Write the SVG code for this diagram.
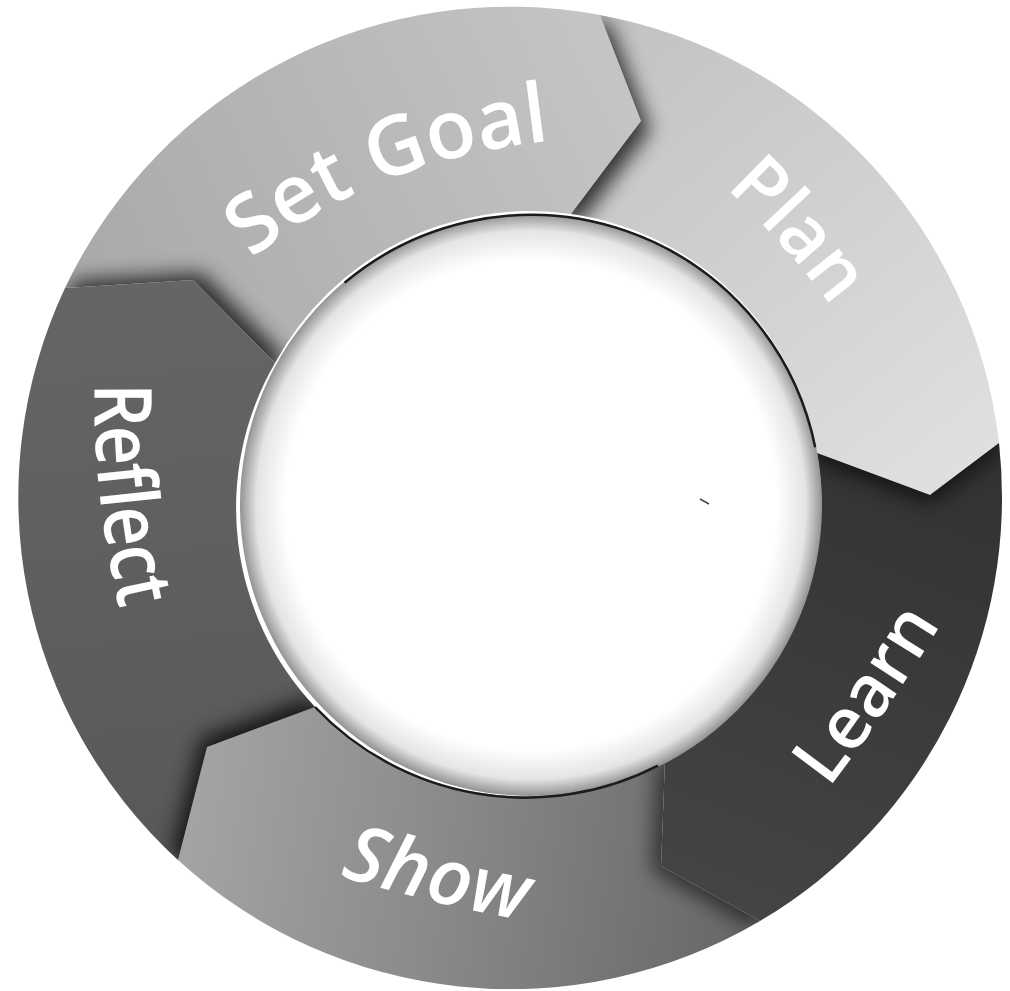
<svg xmlns="http://www.w3.org/2000/svg" width="1010" height="991" viewBox="0 0 1010 991">
<defs>
<style>
.lbl{font-family:"Open Sans","Noto Sans","Liberation Sans",sans-serif;font-weight:600;fill:#ffffff;}
.shd{fill:#000000;filter:url(#blur);}
.rim{fill:none;stroke:#1c1c1c;stroke-width:2.5;}
</style>
<filter id="blur" x="-20%" y="-20%" width="140%" height="140%"><feGaussianBlur stdDeviation="10"/></filter>
<linearGradient id="gSet" x1="80" y1="300" x2="640" y2="40" gradientUnits="userSpaceOnUse"><stop offset="0" stop-color="#a9a9a9"/><stop offset="1" stop-color="#c6c6c6"/></linearGradient>
<linearGradient id="gPlan" x1="620" y1="40" x2="960" y2="460" gradientUnits="userSpaceOnUse"><stop offset="0" stop-color="#c3c3c3"/><stop offset="1" stop-color="#dfdfdf"/></linearGradient>
<linearGradient id="gLearn" x1="900" y1="450" x2="720" y2="900" gradientUnits="userSpaceOnUse"><stop offset="0" stop-color="#333333"/><stop offset="1" stop-color="#444444"/></linearGradient>
<linearGradient id="gShow" x1="180" y1="800" x2="760" y2="880" gradientUnits="userSpaceOnUse"><stop offset="0" stop-color="#a5a5a5"/><stop offset="0.45" stop-color="#8a8a8a"/><stop offset="1" stop-color="#666666"/></linearGradient>
<linearGradient id="gRef" x1="100" y1="290" x2="150" y2="860" gradientUnits="userSpaceOnUse"><stop offset="0" stop-color="#656565"/><stop offset="1" stop-color="#585858"/></linearGradient>
<radialGradient id="gIn" cx="531" cy="505" r="292" gradientUnits="userSpaceOnUse"><stop offset="0.84" stop-color="#ffffff"/><stop offset="0.94" stop-color="#e4e4e4"/><stop offset="1" stop-color="#8e8e8e"/></radialGradient>
<path id="pSG" d="M65,288 A492,492 0 0 1 600,15 L641,121 L571,214 A290,290 0 0 0 275,363 L193,280 Z"/>
<path id="pPL" d="M600,15 A492,492 0 0 1 999,443 L930,495 L817,453 A290,290 0 0 0 571,214 L641,121 Z"/>
<path id="pLE" d="M999,443 A492,492 0 0 1 760,921 L661,866 L665,760 A290,290 0 0 0 817,453 L930,495 Z"/>
<path id="pSH" d="M760,921 A492,492 0 0 1 178,860 L207,747 L315,707 A290,290 0 0 0 665,760 L661,866 Z"/>
<path id="pRE" d="M178,860 A492,492 0 0 1 65,288 L193,280 L275,363 A290,290 0 0 0 315,707 L207,747 Z"/>
<clipPath id="cSG"><use href="#pSG"/></clipPath>
<clipPath id="cPL"><use href="#pPL"/></clipPath>
<clipPath id="cLE"><use href="#pLE"/></clipPath>
<clipPath id="cSH"><use href="#pSH"/></clipPath>
<clipPath id="cRE"><use href="#pRE"/></clipPath>
<path id="tSG" d="M248,262 Q370,160 555,140"/>
<path id="tPL" d="M700,165 Q787,240 852,335"/>
<path id="tLE" d="M808,815 Q890,712 958,595"/>
<path id="tSH" d="M315,868 Q430,905 550,925"/>
<path id="tRE" d="M96,360 Q88,482 125,632"/>
</defs>
<rect width="1010" height="991" fill="#ffffff"/>
<g id="set-goal">
<use href="#pSG" fill="url(#gSet)"/>
<g clip-path="url(#cSG)"><use href="#pRE" class="shd" opacity="0.75" transform="translate(9,-7)"/></g>
<text class="lbl" font-size="82"><textPath href="#tSG" startOffset="50%" text-anchor="middle">Set Goal</textPath></text>
</g>
<g id="plan">
<use href="#pPL" fill="url(#gPlan)"/>
<g clip-path="url(#cPL)"><use href="#pSG" class="shd" opacity="0.75" transform="translate(9,9)"/></g>
<text class="lbl" font-size="76"><textPath href="#tPL" startOffset="50%" text-anchor="middle">Plan</textPath></text>
</g>
<g id="learn">
<use href="#pLE" fill="url(#gLearn)"/>
<g clip-path="url(#cLE)"><use href="#pPL" class="shd" opacity="0.6" transform="translate(0,9)"/></g>
<text class="lbl" font-size="72"><textPath href="#tLE" startOffset="50%" text-anchor="middle">Learn</textPath></text>
</g>
<g id="show">
<use href="#pSH" fill="url(#gShow)"/>
<g clip-path="url(#cSH)"><use href="#pLE" class="shd" opacity="0.55" transform="translate(-9,5)"/></g>
<text class="lbl" font-size="78" font-style="italic"><textPath href="#tSH" startOffset="50%" text-anchor="middle">Show</textPath></text>
</g>
<g id="reflect">
<use href="#pRE" fill="url(#gRef)"/>
<g clip-path="url(#cRE)"><use href="#pSH" class="shd" opacity="0.75" transform="translate(-6,-9)"/></g>
<text class="lbl" font-size="80" textLength="228" lengthAdjust="spacingAndGlyphs"><textPath href="#tRE" startOffset="50%" text-anchor="middle">Reflect</textPath></text>
</g>
<g id="center">
<circle cx="531" cy="505" r="291" fill="url(#gIn)"/>
<path class="rim" d="M344.6,282.8 A290,290 0 0 1 815.2,447.2"/>
<path class="rim" d="M315,707 A290,290 0 0 0 658,765.6"/>
<path d="M700,499 L709,504" stroke="#444444" stroke-width="1.5" fill="none"/>
</g>
</svg>
